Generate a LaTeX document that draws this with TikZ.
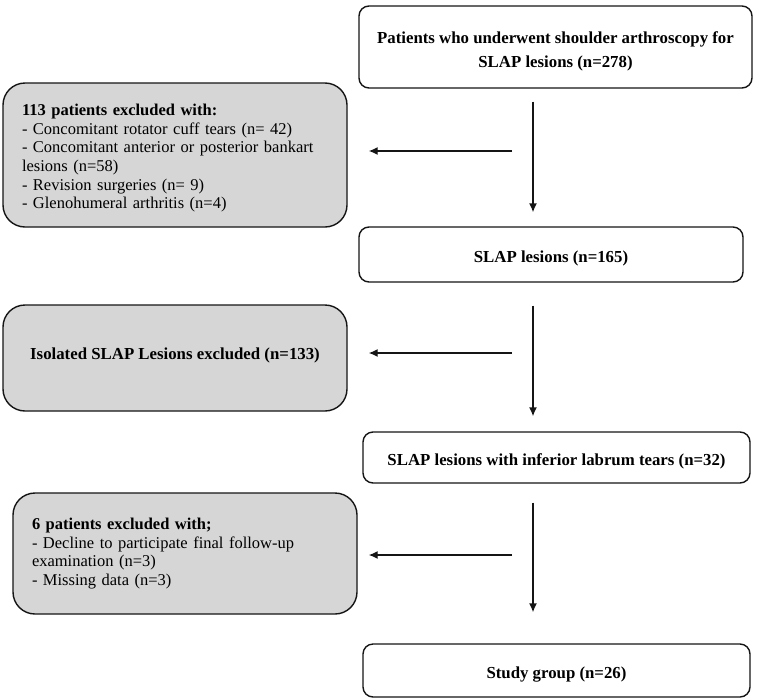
\documentclass[tikz,border=0pt]{standalone}
\usepackage{fontspec}
\setmainfont{Liberation Serif}
\usepackage{xcolor}
\usepackage{tikz}
\usetikzlibrary{arrows.meta}
\definecolor{boxGray}{HTML}{D6D6D6}
\definecolor{lineColor}{HTML}{151515}

\begin{document}
\begin{tikzpicture}[
        x=1pt, y=-1pt,
        mainBox/.style={draw=lineColor, fill=white, line width=1.4pt, rounded corners=10pt, font=\fontsize{16.8}{24}\selectfont\bfseries, align=center, inner sep=0pt},
        oneLine/.style={text height=18pt, text depth=3pt},
        exclBox/.style={draw=lineColor, fill=boxGray, line width=1.4pt, rounded corners=22pt, font=\fontsize{16.5}{18.6}\selectfont, inner xsep=19pt, inner ysep=0pt},
        flowArrow/.style={draw=lineColor, line width=1.4pt, -{Latex[length=9pt,width=8pt]}}
    ]
        \useasboundingbox (0,0) rectangle (762,699);

        % Main column
        \node[mainBox, minimum width=393pt, minimum height=82pt, at={(555.5,47)}] (top) {\rule{0pt}{20pt}Patients who underwent shoulder arthroscopy for \\ SLAP lesions (n=278)};

        \node[mainBox, oneLine, minimum width=384pt, minimum height=55pt, at={(551,254.5)}] (slapA) {SLAP lesions (n=165)};

        \node[mainBox, oneLine, minimum width=387pt, minimum height=51pt, at={(556.5,457.5)}] (slapB) {SLAP lesions with inferior labrum tears (n=32)};

        \node[mainBox, oneLine, minimum width=387pt, minimum height=53pt, at={(556.5,670.5)}] (study) {Study group (n=26)};

        % Excluded boxes
        \node[exclBox, minimum width=344pt, minimum height=144pt, text width=306pt, align=left, at={(175,155)}] (exclA) {\rule{0pt}{18pt}\textbf{113 patients excluded with:} \\ - Concomitant rotator cuff tears (n= 42) \\ - Concomitant anterior or posterior bankart \\ lesions (n=58) \\ - Revision surgeries (n= 9) \\ - Glenohumeral arthritis (n=4)};

        \node[exclBox, minimum width=344pt, minimum height=106pt, align=center, text height=8pt, text depth=5pt, font=\fontsize{16.8}{20}\selectfont\bfseries, at={(175,358)}] (exclB) {Isolated SLAP Lesions excluded (n=133)};

        \node[exclBox, minimum width=344pt, minimum height=121pt, text width=306pt, align=left, at={(185,553.5)}] (exclC) {\textbf{6 patients excluded with;} \\ - Decline to participate final follow-up \\ examination (n=3) \\ - Missing data (n=3) \\[15pt]};

        % Arrows
        \coordinate (spine) at (533,0);
        \coordinate (branchA) at (512,151);
        \coordinate (branchB) at (512,353);
        \coordinate (branchC) at (512,555);

        \draw[flowArrow, shorten <=13pt, shorten >=14pt] (top.south -| spine) -- (slapA.north -| spine);
        \draw[flowArrow, shorten <=23pt, shorten >=15pt] (slapA.south -| spine) -- (slapB.north -| spine);
        \draw[flowArrow, shorten <=19pt, shorten >=31pt] (slapB.south -| spine) -- (study.north -| spine);

        \draw[flowArrow, shorten >=21pt] (branchA) -- (exclA.east |- branchA);
        \draw[flowArrow, shorten >=21pt] (branchB) -- (exclB.east |- branchB);
        \draw[flowArrow, shorten >=11pt] (branchC) -- (exclC.east |- branchC);
    \end{tikzpicture}
\end{document}
